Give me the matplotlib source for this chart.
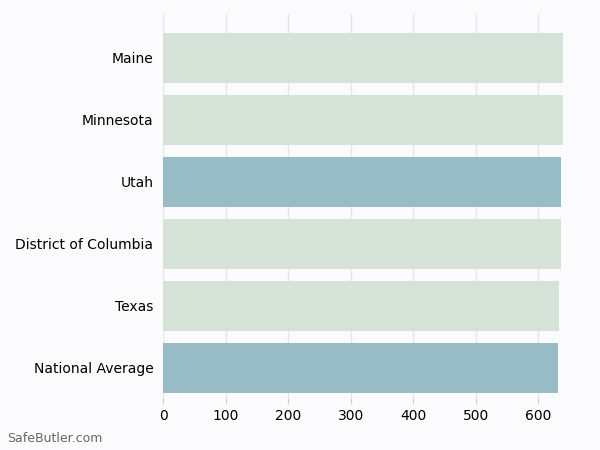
import matplotlib.pyplot as plt

# data
states = ["Maine", "Minnesota", "Utah", "District of Columbia", "Texas", "National Average"]
values = [640, 639, 637, 636, 633, 632]
colors = ["#d4e2d8", "#d4e2d8", "#97bcc5", "#d4e2d8", "#d4e2d8", "#97bcc5"]

bg = "#fbfbfe"
fig = plt.figure(figsize=(6, 4.5), dpi=100, facecolor=bg)
ax = fig.add_axes([0.272, 0.115, 0.7, 0.855], facecolor=bg)

pos = list(range(len(states)))[::-1]
ax.barh(pos, values, height=0.8, color=colors, zorder=2)

ax.set_yticks(pos)
ax.set_yticklabels(states, fontsize=10)
ax.set_xlim(0, 672)
ax.set_ylim(-0.49, 5.716)
ax.set_xticks([0, 100, 200, 300, 400, 500, 600])
ax.tick_params(axis="x", labelsize=10, length=4, color="#cccccc")
ax.tick_params(axis="y", length=0, pad=7)
ax.grid(axis="x", color="#e6e6e6", linewidth=1, zorder=0)
for s in ax.spines.values():
    s.set_visible(False)

fig.text(0.012, 0.017, "SafeButler.com", fontsize=9, color="#666666")

plt.savefig("out.png", dpi=100, facecolor=bg)
plt.close()
